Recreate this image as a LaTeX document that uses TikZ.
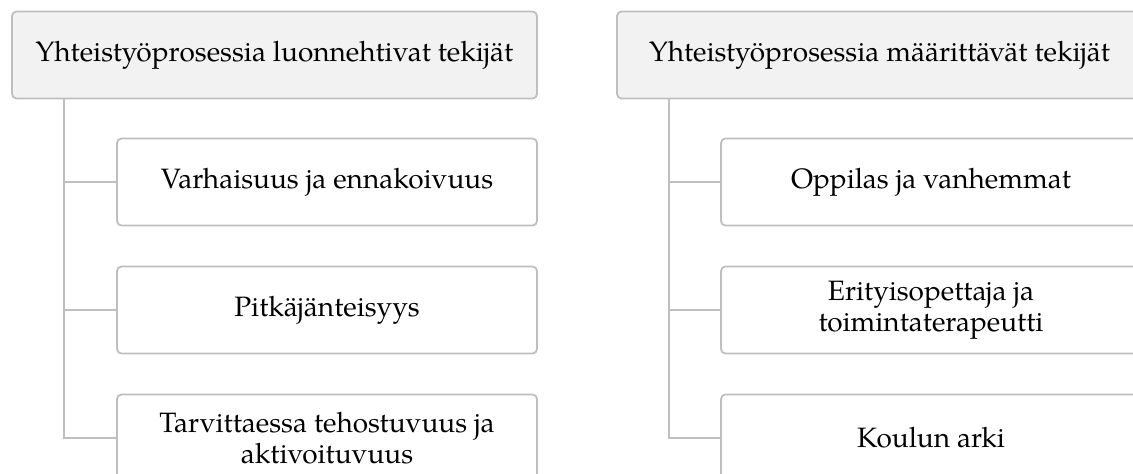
\documentclass[tikz,border=0pt]{standalone}
\usepackage{fontspec}
\setmainfont{TeX Gyre Pagella}
\definecolor{edge}{HTML}{BFBFBF}
\definecolor{headfill}{HTML}{F2F2F2}
\tikzset{
  box/.style={draw=edge, line width=1.8pt, rounded corners=4.5pt, fill=white,
    minimum height=87pt, minimum width=420pt, inner sep=0pt,
    font=\fontsize{28}{31}\selectfont, align=center},
  headbox/.style={box, fill=headfill, minimum width=525pt},
  conn/.style={draw=edge, line width=1.8pt}
}
\begin{document}
\begin{tikzpicture}[x=1pt,y=-1pt]
  \useasboundingbox (0,0) rectangle (1133,474);
  \clip (0,0) rectangle (1133,474);

  % left column
  \node[headbox] (hL) at (274.5,55) {Yhteistyöprosessia luonnehtivat tekijät};
  \node[box] (cL1) at (327,182) {Varhaisuus ja ennakoivuus};
  \node[box] (cL2) at (327,310) {Pitkäjänteisyys};
  \node[box] (cL3) at (327,438) {Tarvittaessa tehostuvuus ja\\aktivoituvuus};

  \coordinate (tL) at ([xshift=53pt]hL.south west);
  \draw[conn] (tL) |- (cL3.west);
  \draw[conn] (tL |- cL1.west) -- (cL1.west);
  \draw[conn] (tL |- cL2.west) -- (cL2.west);

  % right column
  \node[headbox] (hR) at (879.5,55) {Yhteistyöprosessia määrittävät tekijät};
  \node[box] (cR1) at (931,182) {Oppilas ja vanhemmat};
  \node[box] (cR2) at (931,310) {Erityisopettaja ja\\toimintaterapeutti};
  \node[box] (cR3) at (931,438) {Koulun arki};

  \coordinate (tR) at ([xshift=53pt]hR.south west);
  \draw[conn] (tR) |- (cR3.west);
  \draw[conn] (tR |- cR1.west) -- (cR1.west);
  \draw[conn] (tR |- cR2.west) -- (cR2.west);
\end{tikzpicture}
\end{document}
